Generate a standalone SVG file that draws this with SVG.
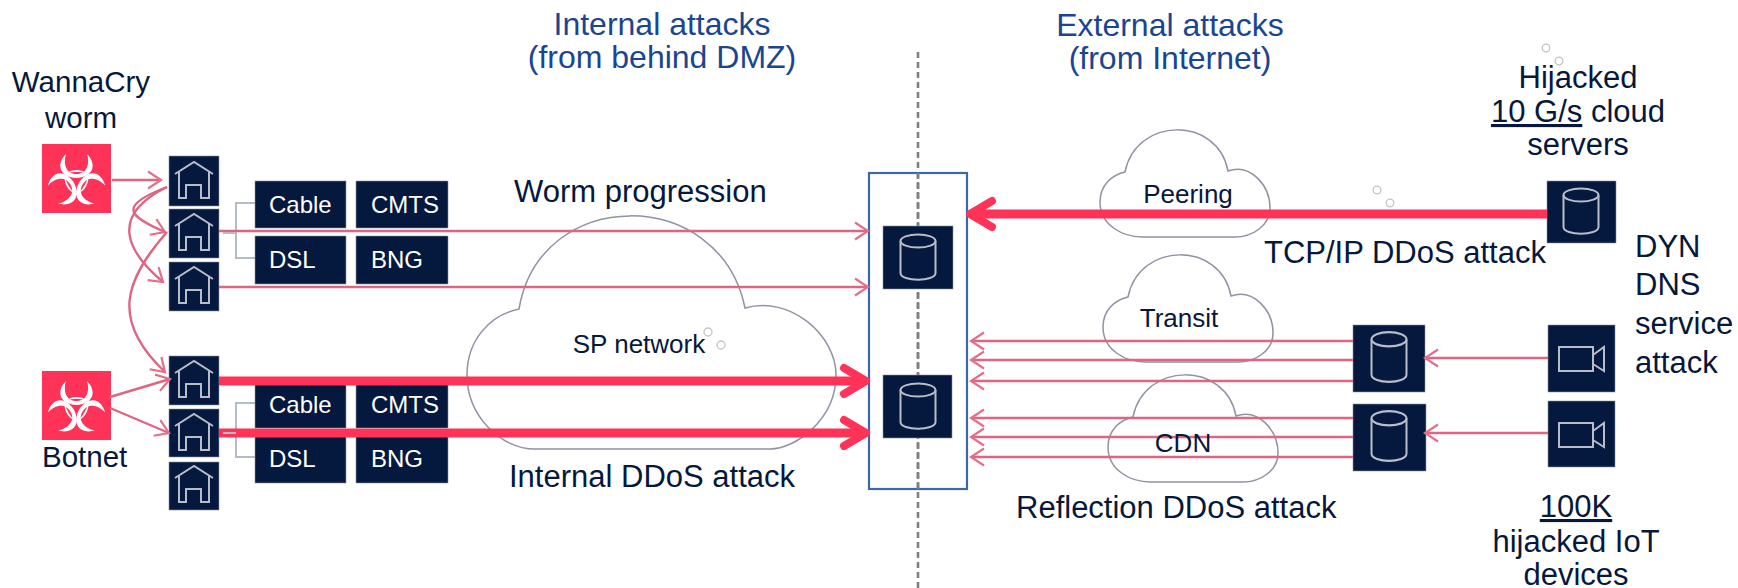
<svg xmlns="http://www.w3.org/2000/svg" width="1738" height="588" viewBox="0 0 1738 588">
<style>
text{font-family:"Liberation Sans",Arial,sans-serif;fill:#06183c}
.t31{font-size:31px}.t29{font-size:29.5px}.t26{font-size:26px}
.blue{fill:#1a4590;font-size:32px}
.w{fill:#fff;font-size:24px}
.m{text-anchor:middle}
.box{fill:#05183d;stroke:#8a93a5;stroke-width:.6}
.ic{fill:none;stroke:#b9bdc8;stroke-width:2}
.cloud{fill:#fff;stroke:#8f93a3;stroke-width:1.5}
.dot{fill:none;stroke:#c4c4c4;stroke-width:1.3}
.thin{fill:none;stroke:#de6682;stroke-width:2.4;marker-end:url(#open)}
.thick{fill:none;stroke:#ff3358;stroke-width:9;marker-end:url(#big)}
.br{fill:none;stroke:#b5bbc4;stroke-width:2}
.dash{fill:none;stroke:#808080;stroke-width:2.6;stroke-dasharray:6 4}
</style>
<defs>
<marker id="open" markerUnits="userSpaceOnUse" markerWidth="18" markerHeight="22" refX="15" refY="10" orient="auto" overflow="visible"><path d="M2 1.5 15 10 2 18.5" fill="none" stroke="#e2708a" stroke-width="2.2"/></marker>
<marker id="big" markerUnits="userSpaceOnUse" markerWidth="30" markerHeight="36" refX="26" refY="16" orient="auto" overflow="visible"><path d="M4 3 26 16 4 29" fill="none" stroke="#ff3358" stroke-width="8" stroke-linejoin="round" stroke-linecap="round"/></marker>
<g id="house"><path class="ic" d="M6 18 25 6 44 18M10 16V42H17V29H32V42H40V16"/></g>
<g id="db"><ellipse class="ic" cx="0" cy="-17" rx="17.5" ry="6.5"/><path class="ic" d="M-17.5 -17V15C-17.5 24 17.5 24 17.5 15V-17"/></g>
<g id="cam"><path class="ic" d="M11 22H45V46H11ZM45 30 56 22V46L45 39"/></g>
<g id="arm" fill="#fff">
<path d="M24 10C14 20 17 33 34.5 34C52 33 55 20 45 10C48 20 45 30 34.5 30C24 30 21 20 24 10Z"/>
<path d="M25 29C30 25 39 25 44 29C39 27.5 30 27.5 25 29Z"/>
</g>
<g id="bio"><rect width="69" height="69" fill="#ff3358"/><use href="#arm"/><use href="#arm" transform="rotate(120 34.5 37)"/><use href="#arm" transform="rotate(240 34.5 37)"/></g>
<path id="cloudP" d="M25 42C36 -14 118 -14 128 41C150 33 170 55 170 78C170 96 152 107 135 107H42C24 107 0 96 0 72C0 55 12 45 25 42Z"/>
</defs>

<g id="divider"><path class="dash" d="M918 52V588"/></g>

<g id="clouds">
<path id="sp-network" class="cloud" d="M519 309C540 185 720 185 745 308C790 295 836 335 836 375C836 420 795 449 770 449H535C500 449 467 415 467 375C467 340 490 315 519 309Z"/>
<use class="cloud" href="#cloudP" x="1100" y="130"/>
<use class="cloud" href="#cloudP" x="1103" y="255"/>
<use class="cloud" href="#cloudP" x="1108" y="375"/>
</g>

<g id="dmz"><rect x="869" y="173" width="98" height="316" fill="none" stroke="#3d68a8" stroke-width="2.2"/><path class="dash" d="M918 173V489"/></g>

<g id="worm"><use href="#bio" x="42" y="144"/></g>
<g id="botnet"><use href="#bio" x="42" y="371"/></g>

<g id="house1"><rect class="box" x="169" y="156" width="50" height="50"/><use href="#house" x="169" y="156"/></g>
<g id="house2"><rect class="box" x="169" y="209" width="50" height="49"/><use href="#house" x="169" y="208"/></g>
<g id="house3"><rect class="box" x="169" y="262" width="50" height="49"/><use href="#house" x="169" y="261"/></g>
<g id="house4"><rect class="box" x="169" y="356" width="50" height="49"/><use href="#house" x="169" y="355"/></g>
<g id="house5"><rect class="box" x="169" y="409" width="50" height="48"/><use href="#house" x="169" y="408"/></g>
<g id="house6"><rect class="box" x="169" y="462" width="50" height="48"/><use href="#house" x="169" y="460"/></g>

<g id="access1">
<path class="br" d="M255 203H236V258H255"/>
<rect class="box" x="255" y="181" width="91" height="47"/><text class="w" x="269" y="213">Cable</text>
<rect class="box" x="356" y="181" width="92" height="47"/><text class="w" x="371" y="213">CMTS</text>
<rect class="box" x="255" y="236" width="91" height="48"/><text class="w" x="269" y="268">DSL</text>
<rect class="box" x="356" y="236" width="92" height="48"/><text class="w" x="371" y="268">BNG</text>
</g>
<g id="access2">
<path class="br" d="M255 403H236V457H255"/>
<rect class="box" x="255" y="381" width="91" height="47"/><text class="w" x="269" y="413">Cable</text>
<rect class="box" x="356" y="381" width="92" height="47"/><text class="w" x="371" y="413">CMTS</text>
<rect class="box" x="255" y="436" width="91" height="47"/><text class="w" x="269" y="467">DSL</text>
<rect class="box" x="356" y="436" width="92" height="47"/><text class="w" x="371" y="467">BNG</text>
</g>

<g id="db1"><rect class="box" x="883" y="226" width="70" height="63"/><use href="#db" x="918" y="258"/></g>
<g id="db2"><rect class="box" x="883" y="375" width="69" height="63"/><use href="#db" x="918" y="407"/></g>
<g id="db3"><rect class="box" x="1547" y="181" width="69" height="62"/><use href="#db" x="1581" y="212"/></g>
<g id="db4"><rect class="box" x="1353" y="325" width="72" height="67"/><use transform="translate(1389 358) scale(1 1.1)" href="#db"/></g>
<g id="db5"><rect class="box" x="1353" y="404" width="73" height="67"/><use transform="translate(1389 437) scale(1 1.1)" href="#db"/></g>
<g id="cam1"><rect class="box" x="1548" y="325" width="67" height="67"/><use href="#cam" x="1548" y="325"/></g>
<g id="cam2"><rect class="box" x="1548" y="401" width="67" height="66"/><use href="#cam" x="1548" y="401"/></g>

<g id="connectors">
<path class="thin" d="M112 180H161"/>
<path class="thin" d="M167 187C120 205 125 215 165 232"/>
<path class="thin" d="M167 187C110 215 125 250 163 282"/>
<path class="thin" d="M167 232C125 280 110 320 165 372"/>
<path class="thin" d="M110 397 170 379"/>
<path class="thin" d="M110 408 169 433"/>
<path class="thin" d="M219 231H868"/>
<path class="thin" d="M219 287H868"/>
<path class="thick" d="M219 381H866"/>
<path class="thick" d="M219 433H866"/>
<path class="thick" d="M1547 214H970"/>
<path class="thin" d="M1353 341H971"/>
<path class="thin" d="M1353 360H971"/>
<path class="thin" d="M1353 381H971"/>
<path class="thin" d="M1353 418H971"/>
<path class="thin" d="M1353 437H971"/>
<path class="thin" d="M1353 457H971"/>
<path class="thin" d="M1548 358H1425"/>
<path class="thin" d="M1548 433H1425"/>
<path class="br" d="M223 433H236"/>
<path class="br" d="M223 233H236"/>
</g>

<g id="labels">
<text class="blue m" x="662" y="35">Internal attacks</text>
<text class="blue m" x="662" y="68">(from behind DMZ)</text>
<text class="blue m" x="1170" y="36">External attacks</text>
<text class="blue m" x="1170" y="69">(from Internet)</text>
<text class="t29 m" x="81" y="92">WannaCry</text>
<text class="t29 m" x="81" y="128">worm</text>
<text class="t29" x="42" y="467">Botnet</text>
<text class="t31" x="514" y="202">Worm progression</text>
<text class="t26 m" x="639" y="353">SP network</text>
<text class="t31" x="509" y="487">Internal DDoS attack</text>
<text class="t26 m" x="1188" y="203">Peering</text>
<text class="t26 m" x="1179" y="327">Transit</text>
<text class="t26 m" x="1183" y="452">CDN</text>
<text class="t31" x="1264" y="263">TCP/IP DDoS attack</text>
<text class="t31" x="1016" y="518">Reflection DDoS attack</text>
<text class="t31 m" x="1578" y="88">Hijacked</text>
<text class="t31 m" x="1578" y="122"><tspan text-decoration="underline">10 G/s</tspan> cloud</text>
<text class="t31 m" x="1578" y="155">servers</text>
<text class="t31" x="1635" y="257">DYN</text>
<text class="t31" x="1635" y="295">DNS</text>
<text class="t31" x="1635" y="334">service</text>
<text class="t31" x="1635" y="373">attack</text>
<text class="t31 m" x="1576" y="517" text-decoration="underline">100K</text>
<text class="t31 m" x="1576" y="552">hijacked IoT</text>
<text class="t31 m" x="1576" y="585">devices</text>
</g>

<g id="marks">
<circle class="dot" cx="708" cy="332" r="4"/><circle class="dot" cx="721" cy="345" r="4"/>
<circle class="dot" cx="1377" cy="190" r="3.8"/><circle class="dot" cx="1390" cy="203" r="3.8"/>
<circle class="dot" cx="1546" cy="48" r="3.8"/><circle class="dot" cx="1559" cy="61" r="3.8"/>
</g>
</svg>
